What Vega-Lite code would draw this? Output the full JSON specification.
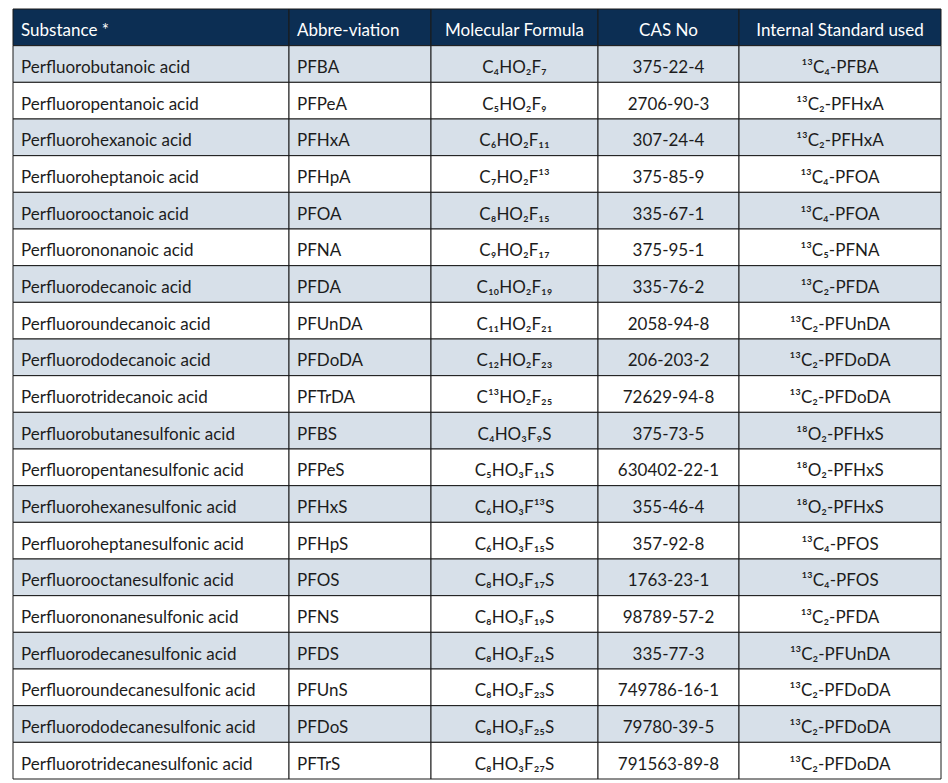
{
  "$schema": "https://vega.github.io/schema/vega-lite/v6.json",
  "padding": {"left": 12, "top": 8, "right": 8, "bottom": 5},
  "background": "white",
  "bounds": "flush",
  "config": {"view": {"stroke": null}, "font": "Lato"},
  "data": {"values": [
    {"n": 0, "sub": "Substance *", "abbr": "Abbre-viation", "formula": "Molecular Formula", "cas": "CAS No", "is": "Internal Standard used"},
    {"n": 1, "sub": "Perfluorobutanoic acid", "abbr": "PFBA", "formula": "C₄HO₂F₇", "cas": "375-22-4", "is": "¹³C₄-PFBA"},
    {"n": 2, "sub": "Perfluoropentanoic acid", "abbr": "PFPeA", "formula": "C₅HO₂F₉", "cas": "2706-90-3", "is": "¹³C₂-PFHxA"},
    {"n": 3, "sub": "Perfluorohexanoic acid", "abbr": "PFHxA", "formula": "C₆HO₂F₁₁", "cas": "307-24-4", "is": "¹³C₂-PFHxA"},
    {"n": 4, "sub": "Perfluoroheptanoic acid", "abbr": "PFHpA", "formula": "C₇HO₂F¹³", "cas": "375-85-9", "is": "¹³C₄-PFOA"},
    {"n": 5, "sub": "Perfluorooctanoic acid", "abbr": "PFOA", "formula": "C₈HO₂F₁₅", "cas": "335-67-1", "is": "¹³C₄-PFOA"},
    {"n": 6, "sub": "Perfluorononanoic acid", "abbr": "PFNA", "formula": "C₉HO₂F₁₇", "cas": "375-95-1", "is": "¹³C₅-PFNA"},
    {"n": 7, "sub": "Perfluorodecanoic acid", "abbr": "PFDA", "formula": "C₁₀HO₂F₁₉", "cas": "335-76-2", "is": "¹³C₂-PFDA"},
    {"n": 8, "sub": "Perfluoroundecanoic acid", "abbr": "PFUnDA", "formula": "C₁₁HO₂F₂₁", "cas": "2058-94-8", "is": "¹³C₂-PFUnDA"},
    {"n": 9, "sub": "Perfluorododecanoic acid", "abbr": "PFDoDA", "formula": "C₁₂HO₂F₂₃", "cas": "206-203-2", "is": "¹³C₂-PFDoDA"},
    {"n": 10, "sub": "Perfluorotridecanoic acid", "abbr": "PFTrDA", "formula": "C¹³HO₂F₂₅", "cas": "72629-94-8", "is": "¹³C₂-PFDoDA"},
    {"n": 11, "sub": "Perfluorobutanesulfonic acid", "abbr": "PFBS", "formula": "C₄HO₃F₉S", "cas": "375-73-5", "is": "¹⁸O₂-PFHxS"},
    {"n": 12, "sub": "Perfluoropentanesulfonic acid", "abbr": "PFPeS", "formula": "C₅HO₃F₁₁S", "cas": "630402-22-1", "is": "¹⁸O₂-PFHxS"},
    {"n": 13, "sub": "Perfluorohexanesulfonic acid", "abbr": "PFHxS", "formula": "C₆HO₃F¹³S", "cas": "355-46-4", "is": "¹⁸O₂-PFHxS"},
    {"n": 14, "sub": "Perfluoroheptanesulfonic acid", "abbr": "PFHpS", "formula": "C₆HO₃F₁₅S", "cas": "357-92-8", "is": "¹³C₄-PFOS"},
    {"n": 15, "sub": "Perfluorooctanesulfonic acid", "abbr": "PFOS", "formula": "C₈HO₃F₁₇S", "cas": "1763-23-1", "is": "¹³C₄-PFOS"},
    {"n": 16, "sub": "Perfluorononanesulfonic acid", "abbr": "PFNS", "formula": "C₈HO₃F₁₉S", "cas": "98789-57-2", "is": "¹³C₂-PFDA"},
    {"n": 17, "sub": "Perfluorodecanesulfonic acid", "abbr": "PFDS", "formula": "C₈HO₃F₂₁S", "cas": "335-77-3", "is": "¹³C₂-PFUnDA"},
    {"n": 18, "sub": "Perfluoroundecanesulfonic acid", "abbr": "PFUnS", "formula": "C₈HO₃F₂₃S", "cas": "749786-16-1", "is": "¹³C₂-PFDoDA"},
    {"n": 19, "sub": "Perfluorododecanesulfonic acid", "abbr": "PFDoS", "formula": "C₈HO₃F₂₅S", "cas": "79780-39-5", "is": "¹³C₂-PFDoDA"},
    {"n": 20, "sub": "Perfluorotridecanesulfonic acid", "abbr": "PFTrS", "formula": "C₈HO₃F₂₇S", "cas": "791563-89-8", "is": "¹³C₂-PFDoDA"}
  ]},
  "spacing": 0,
  "hconcat": [
    {
      "width": 276, "height": 770,
      "encoding": {"y": {"field": "n", "type": "ordinal", "axis": null, "scale": {"paddingInner": 0, "paddingOuter": 0}}},
      "layer": [
        {"mark": {"type": "rect", "stroke": "#1a1a1a", "strokeWidth": 1},
         "encoding": {"fill": {"condition": [{"test": "datum.n == 0", "value": "#0c2e53"}, {"test": "datum.n % 2 == 1", "value": "#d7e0e9"}], "value": "#ffffff"}}},
        {"mark": {"type": "text", "align": "left", "baseline": "middle", "fontSize": 17, "dx": 8, "dy": 4},
         "encoding": {"x": {"value": 0}, "text": {"field": "sub"},
           "color": {"condition": {"test": "datum.n == 0", "value": "#ffffff"}, "value": "#1c1c1c"}}}
      ]
    },
    {
      "width": 142, "height": 770,
      "encoding": {"y": {"field": "n", "type": "ordinal", "axis": null, "scale": {"paddingInner": 0, "paddingOuter": 0}}},
      "layer": [
        {"mark": {"type": "rect", "stroke": "#1a1a1a", "strokeWidth": 1},
         "encoding": {"fill": {"condition": [{"test": "datum.n == 0", "value": "#0c2e53"}, {"test": "datum.n % 2 == 1", "value": "#d7e0e9"}], "value": "#ffffff"}}},
        {"mark": {"type": "text", "align": "left", "baseline": "middle", "fontSize": 17, "dx": 8, "dy": 4},
         "encoding": {"x": {"value": 0}, "text": {"field": "abbr"},
           "color": {"condition": {"test": "datum.n == 0", "value": "#ffffff"}, "value": "#1c1c1c"}}}
      ]
    },
    {
      "width": 167, "height": 770,
      "encoding": {"y": {"field": "n", "type": "ordinal", "axis": null, "scale": {"paddingInner": 0, "paddingOuter": 0}}},
      "layer": [
        {"mark": {"type": "rect", "stroke": "#1a1a1a", "strokeWidth": 1},
         "encoding": {"fill": {"condition": [{"test": "datum.n == 0", "value": "#0c2e53"}, {"test": "datum.n % 2 == 1", "value": "#d7e0e9"}], "value": "#ffffff"}}},
        {"mark": {"type": "text", "align": "center", "baseline": "middle", "fontSize": 17, "dy": 4},
         "encoding": {"text": {"field": "formula"},
           "color": {"condition": {"test": "datum.n == 0", "value": "#ffffff"}, "value": "#1c1c1c"}}}
      ]
    },
    {
      "width": 141, "height": 770,
      "encoding": {"y": {"field": "n", "type": "ordinal", "axis": null, "scale": {"paddingInner": 0, "paddingOuter": 0}}},
      "layer": [
        {"mark": {"type": "rect", "stroke": "#1a1a1a", "strokeWidth": 1},
         "encoding": {"fill": {"condition": [{"test": "datum.n == 0", "value": "#0c2e53"}, {"test": "datum.n % 2 == 1", "value": "#d7e0e9"}], "value": "#ffffff"}}},
        {"mark": {"type": "text", "align": "center", "baseline": "middle", "fontSize": 17, "dy": 4},
         "encoding": {"text": {"field": "cas"},
           "color": {"condition": {"test": "datum.n == 0", "value": "#ffffff"}, "value": "#1c1c1c"}}}
      ]
    },
    {
      "width": 202, "height": 770,
      "encoding": {"y": {"field": "n", "type": "ordinal", "axis": null, "scale": {"paddingInner": 0, "paddingOuter": 0}}},
      "layer": [
        {"mark": {"type": "rect", "stroke": "#1a1a1a", "strokeWidth": 1},
         "encoding": {"fill": {"condition": [{"test": "datum.n == 0", "value": "#0c2e53"}, {"test": "datum.n % 2 == 1", "value": "#d7e0e9"}], "value": "#ffffff"}}},
        {"mark": {"type": "text", "align": "center", "baseline": "middle", "fontSize": 17, "dy": 4},
         "encoding": {"text": {"field": "is"},
           "color": {"condition": {"test": "datum.n == 0", "value": "#ffffff"}, "value": "#1c1c1c"}}}
      ]
    }
  ]
}
